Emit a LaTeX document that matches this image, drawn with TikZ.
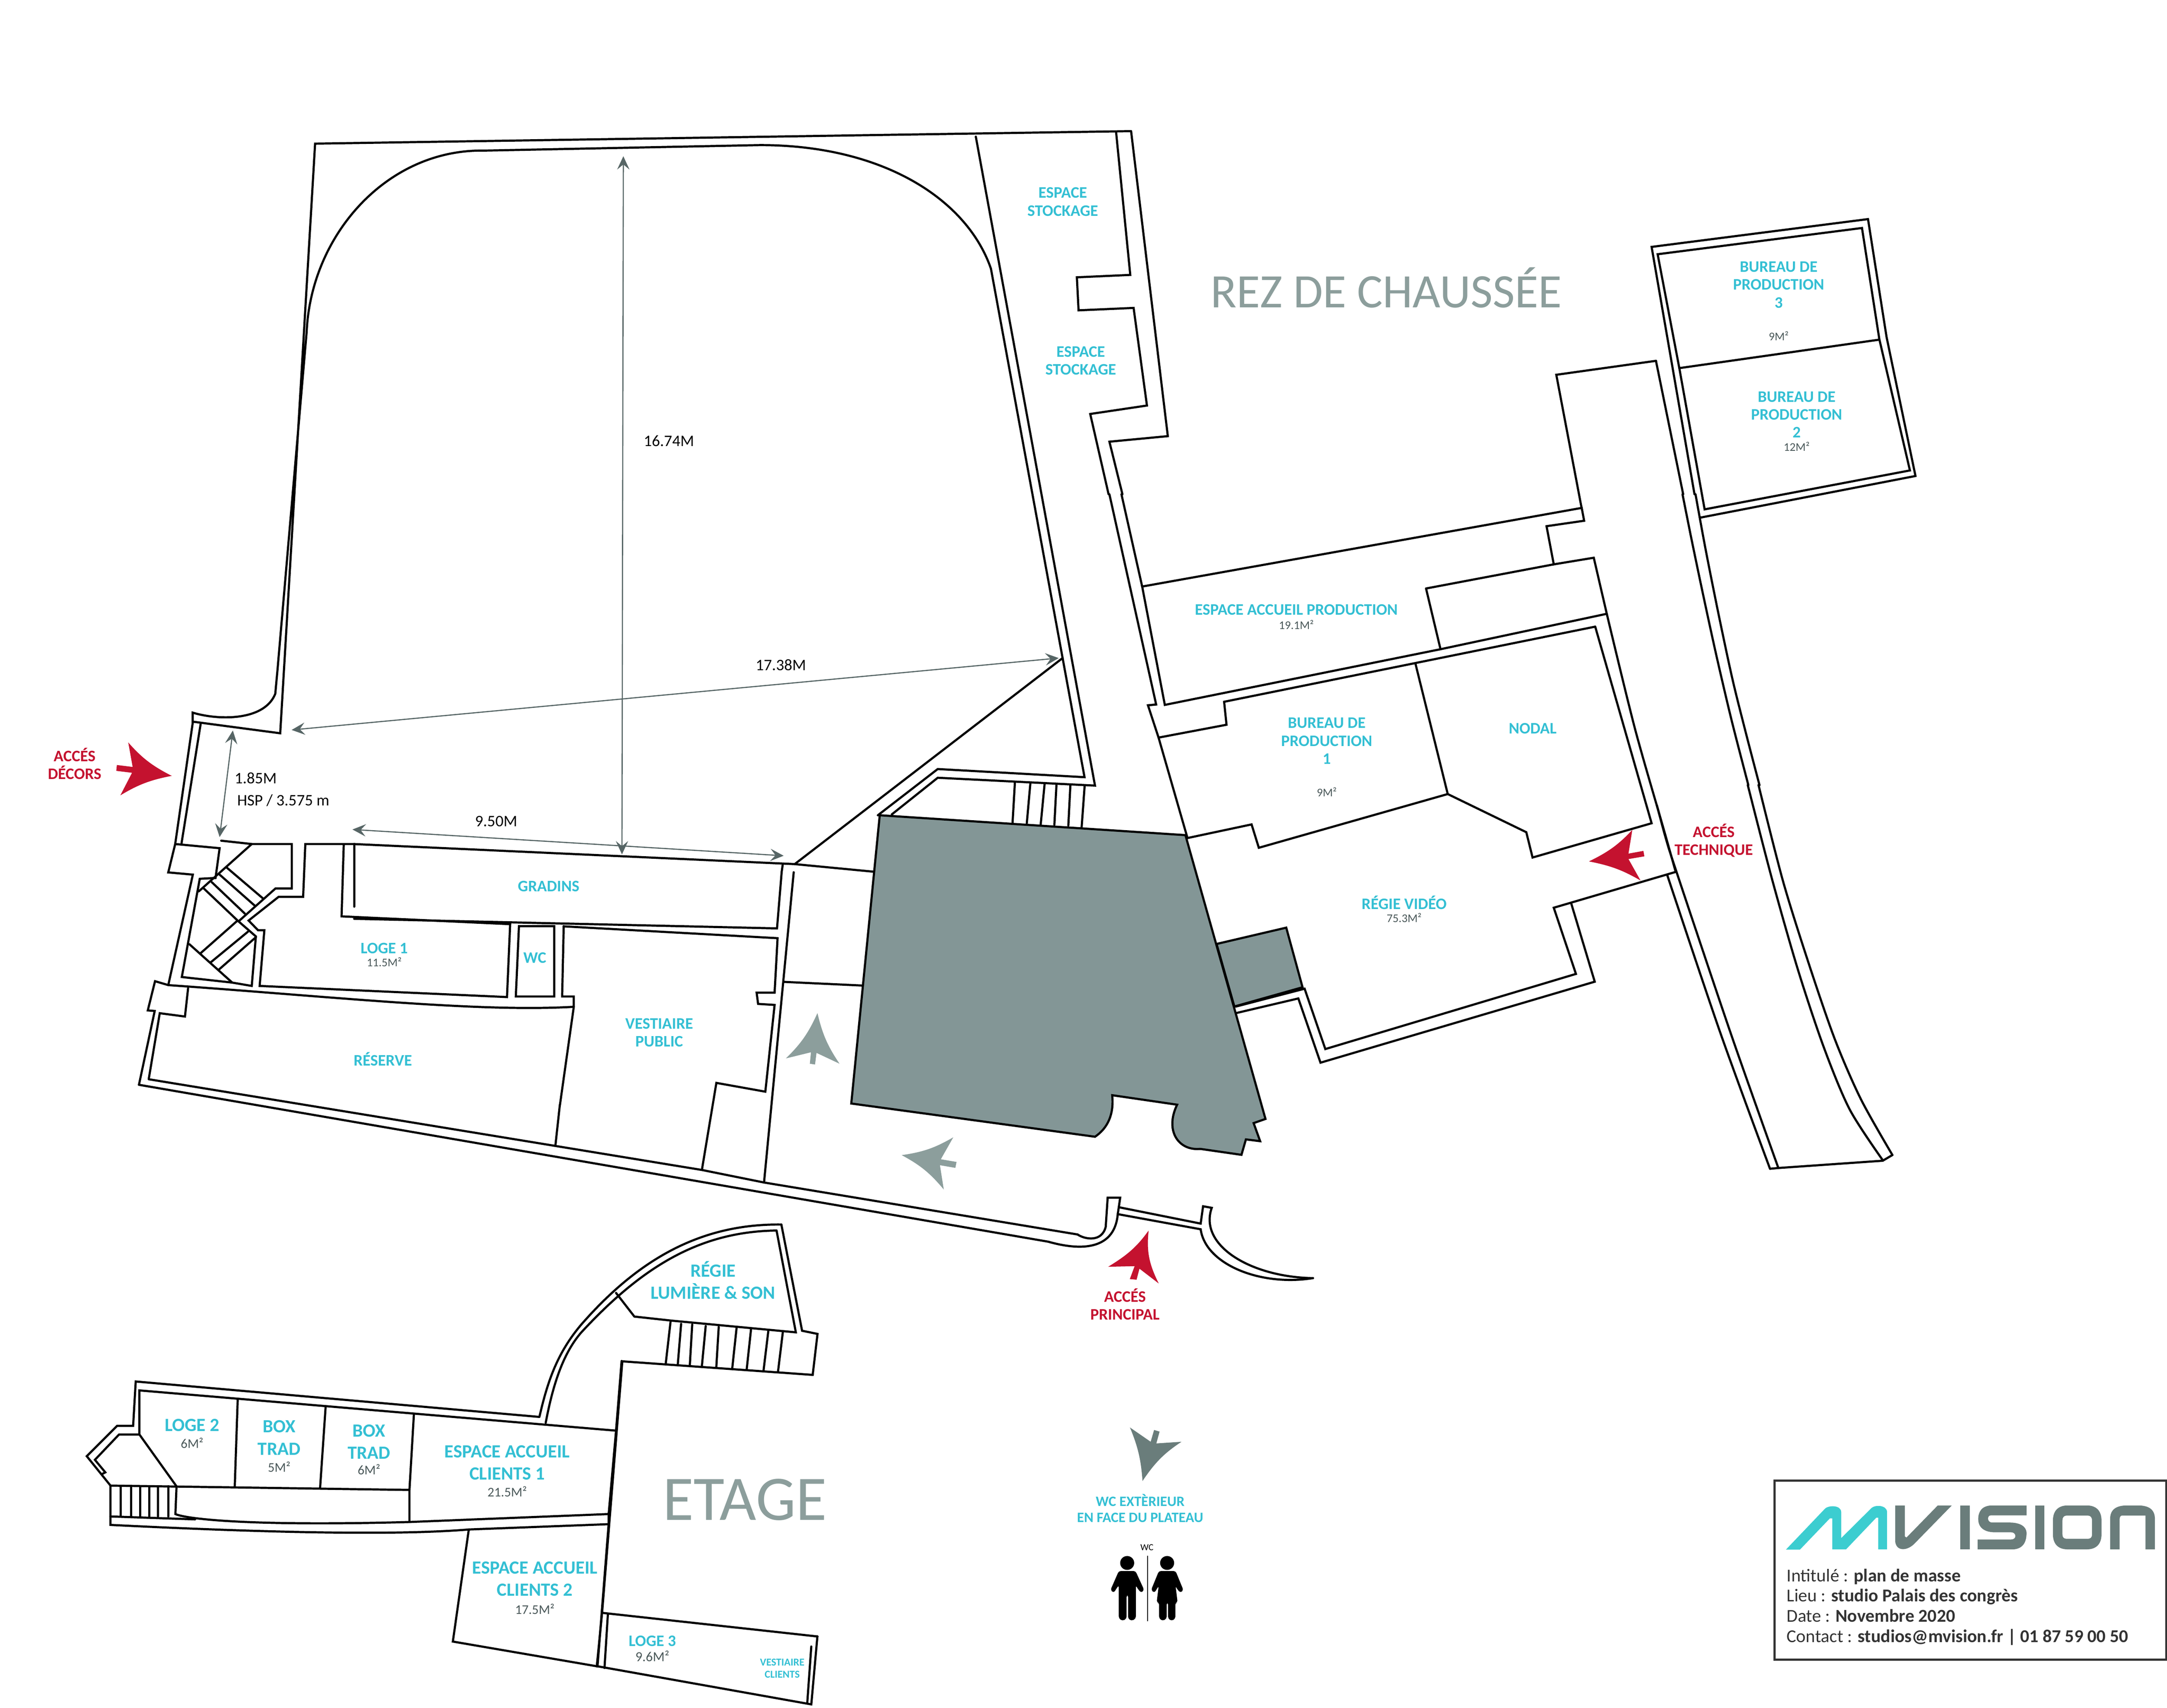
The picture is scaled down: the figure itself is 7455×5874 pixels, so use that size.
\documentclass[tikz,border=0pt]{standalone}
\usepackage{fontspec}
\setmainfont{Carlito}
\usetikzlibrary{arrows.meta}
\definecolor{labteal}{HTML}{33BFD3}
\definecolor{areagrey}{HTML}{4A5859}
\definecolor{hallgrey}{HTML}{839696}
\definecolor{markgrey}{HTML}{8C9E9C}
\definecolor{wcgrey}{HTML}{6A7D7B}
\definecolor{dimgrey}{HTML}{566565}
\definecolor{accred}{HTML}{C4122F}
\definecolor{logoteal}{HTML}{3CCDD0}
\newcommand{\arrowmark}[8]{\fill[#1] #2 to[bend left=11] #3 -- #4 -- #5 -- #6 -- #7 -- #8 to[bend left=11] #2 -- cycle;}
\tikzset{
    wall/.style={draw=black,line width=2.1pt},
    dimline/.style={draw=dimgrey,line width=1.1pt,{Stealth[length=13pt,width=12pt,inset=5pt]}-{Stealth[length=13pt,width=12pt,inset=5pt]}},
    lab/.style={text=labteal,font=\fontsize{15.7}{17.5}\selectfont\bfseries,align=center,inner sep=0},
    labbig/.style={lab,font=\fontsize{18.2}{21.7}\selectfont\bfseries},
    labsmall/.style={lab,font=\fontsize{10.3}{12}\selectfont\bfseries},
    area/.style={text=areagrey,font=\fontsize{11.5}{13}\selectfont,inner sep=0},
    areabig/.style={area,font=\fontsize{13}{15}\selectfont},
    redlab/.style={lab,text=accred},
    dimlab/.style={text=black,font=\fontsize{15.7}{17}\selectfont,inner sep=0},
    floorlab/.style={text=markgrey,font=\fontsize{62}{63}\selectfont,inner sep=0},
    titlelab/.style={text=black!80,font=\fontsize{17.7}{20}\selectfont,inner sep=0,anchor=base west},
    vthumb/.style={scale=4.7545},
    ventry/.style={shift={(400,2300)},xscale=1.084,yscale=.957},
    vstock/.style={shift={(3300,400)},xscale=.574,yscale=.829},
    vetage/.style={shift={(250,4550)},xscale=1.276,yscale=.829},
    vporch/.style={shift={(2000,4100)},xscale=1.658,yscale=1.084},
    vregie/.style={shift={(3800,1700)},xscale=1.658,yscale=1.339},
    vlogo/.style={shift={(6000,5000)},xscale=.928,yscale=.478},
    vhall/.style={shift={(2900,2500)},xscale=1.02,yscale=1.02},
    vbureau/.style={shift={(5400,700)},xscale=.829,yscale=.765},
    vwc/.style={shift={(3600,4900)},xscale=.383,yscale=.478},
    vcorra/.style={shift={(5600,1700)},xscale=.638,yscale=.638},
    vcorrb/.style={shift={(5700,2700)},xscale=.638,yscale=.893},
    vvest/.style={shift={(2000,3000)},xscale=.638,yscale=.702},
}
\begin{document}
\begin{tikzpicture}[x=0.01cm,y=-0.01cm,line join=miter,line cap=round]
\useasboundingbox (0,0) rectangle (7455,5874);
% plateau
\draw[wall] (3891,451) -- (1084,494) -- (964,2522) -- (663,2482) -- (663,2451)
    .. controls (747,2477) and (909,2482) .. (947,2386) -- (955,2300) -- (1055,1141)
    .. controls (1070,808) and (1331,513) .. (1664,518) -- (2615,499)
    .. controls (3043,499) and (3328,689) .. (3409,924) -- (3731,2673) -- (3226,2645) -- (3020,2804);
\draw[wall] (3357,470) -- (3767,2702) -- (3226,2675) -- (3068,2801);
\draw[wall] (3656,2263) -- (2734,2972);
\draw[wall] (2734,2972) -- (3004,2998);
\draw[wall] (2689,3000) -- (2693,2972);
\draw[wall] (1218,2903) -- (2734,2972);
\draw[wall] (512,3712) -- (2415,4024) -- (2628,4067) -- (3708,4246);
\draw[wall] (478,3731) -- (3608,4271);
\draw[wall] (1926,3800) -- (1911,3937);
\draw[wall] (5441,1747) -- (5354,1289) -- (5697,1241);
% stockage
\begin{scope}[vstock]
    \draw[wall] (1030,62) -- (1250,1327) -- (900,1350) -- (978,1568);
    \draw[wall] (940,65) -- (1025,658) -- (705,668) -- (715,805) -- (1045,795) -- (1125,1200) -- (785,1235) -- (895,1568);
\end{scope}
% entree decors, escalier, loge 1
\begin{scope}[ventry]
    \draw[wall] (243,192) -- (187,630) -- (165,732) -- (243,740) -- (165,1137);
    \draw[wall] (268,197) -- (207,628);
    \draw[wall] (187,630) -- (328,645) -- (315,752) -- (265,755) -- (208,1108) -- (368,1128) -- (430,1140)
        -- (443,962) -- (388,908) -- (505,790) -- (557,790) -- (557,630) -- (430,630) -- (333,618);
    \draw[wall] (430,630) -- (262,800);
    \draw[wall] (352,716) -- (465,825);
    \draw[wall] (328,740) -- (440,852);
    \draw[wall] (303,767) -- (408,880);
    \draw[wall] (278,790) -- (385,905) -- (268,1022);
    \draw[wall] (232,990) -- (368,1128);
    \draw[wall] (418,945) -- (300,1055);
    \draw[wall] (443,965) -- (327,1080);
    \draw[wall] (755,630) -- (600,630) -- (593,820) -- (515,820) -- (420,905) -- (450,940) -- (470,940)
        -- (455,1140) -- (1240,1180) -- (1250,918) -- (715,890) -- (722,630);
    \draw[wall] (755,630) -- (755,855);
    \draw[wall] (1278,925) -- (1390,925) -- (1390,1178) -- (1268,1178) -- cycle;
    \draw[wall] (1420,925) -- (1415,1178) -- (1452,1178) -- (1452,1215) -- (1408,1568);
    \draw[wall] (165,1137) .. controls (700,1180) and (1150,1235) .. (1452,1215);
    \draw[wall] (165,1137) -- (123,1123) -- (100,1228) -- (122,1230) -- (72,1495);
    \draw[wall] (228,1148) -- (218,1250) -- (138,1238) -- (103,1475);
    \arrowmark{accred}{(176,385)}{(38,265)}{(52,353)}{(2,346)}{(0,367)}{(50,374)}{(13,455)}
    \draw[dimline] (370,222) coordinate (hauta) -- (328,605) coordinate (hautb);
\end{scope}
% gradins, vestiaire public
\begin{scope}[vvest]
    \draw[wall] (-1225,228) -- (1055,275) -- (1080,0);
    \draw[wall] (-96,265) -- (1058,323) -- (1042,590) -- (945,590) -- (953,645) -- (1042,650) -- (992,1075) -- (728,1032) -- (650,1458);
    \draw[wall] (1145,0) -- (985,1520);
    \draw[wall] (1090,537) -- (1515,555);
    \arrowmark{markgrey}{(1273,690)}{(1103,912)}{(1238,882)}{(1232,938)}{(1260,942)}{(1268,885)}{(1392,938)}
\end{scope}
% hall gris
\begin{scope}[vhall]
    \draw[wall,fill=hallgrey] (124,298) -- (1155,365) -- (1425,1322) -- (1385,1336) -- (1407,1397) -- (1359,1391) -- (1344,1443) -- (1205,1423)
        .. controls (1130,1430) and (1085,1360) .. (1127,1274) -- (908,1242) .. controls (915,1310) and (890,1355) .. (850,1382) -- (28,1270) -- cycle;
    \draw[wall,fill=hallgrey] (1260,732) -- (1495,677) -- (1550,878) -- (1320,943) -- cycle;
    \draw[wall] (580,185) -- (572,322);
    \draw[wall] (632,190) -- (620,325);
    \draw[wall] (680,193) -- (667,328);
    \draw[wall] (720,195) -- (713,330);
    \draw[wall] (767,197) -- (760,333);
    \draw[wall] (815,200) -- (805,338);
    \arrowmark{markgrey}{(198,1444)}{(340,1560)}{(327,1478)}{(379,1487)}{(383,1467)}{(330,1458)}{(372,1384)}
\end{scope}
% porche, accueil
\begin{scope}[vporch]
    \draw[wall] (1030,135) .. controls (1045,150) and (1080,160) .. (1088,110) -- (1092,18) -- (1118,18) -- (1113,70);
    \draw[wall] (1115,48) -- (1285,100) -- (1290,45) -- (1308,50) .. controls (1280,170) and (1390,270) .. (1518,273);
    \draw[wall] (970,158) .. controls (1010,175) and (1105,205) .. (1113,70) -- (1285,118) .. controls (1295,230) and (1410,300) .. (1518,273);
    \arrowmark{accred}{(1177,122)}{(1093,237)}{(1148,235)}{(1138,276)}{(1152,278)}{(1158,243)}{(1198,290)}
    % etage, regie
    \draw[wall] (415,103) .. controls (250,100) and (120,210) .. (0,420) .. controls (-50,510) and (-70,600) .. (-87,713);
    \draw[wall] (405,122) .. controls (250,125) and (130,230) .. (0,445) .. controls (-40,515) and (-60,620) .. (-74,732);
    \draw[wall] (85,537) -- (480,580) -- (490,450) -- (458,440) -- (415,103);
    \draw[wall] (405,122) -- (445,445) -- (188,408) -- (110,395) -- (72,320);
    \draw[wall] (185,412) -- (175,545);
    \draw[wall] (207,418) -- (200,548);
    \draw[wall] (230,420) -- (225,550);
    \draw[wall] (258,425) -- (250,553);
    \draw[wall] (285,428) -- (280,556);
    \draw[wall] (322,432) -- (313,560);
    \draw[wall] (352,436) -- (343,563);
    \draw[wall] (388,440) -- (378,566);
    \draw[wall] (418,445) -- (408,570);
    \draw[wall] (85,537) -- (43,1335) -- (32,1505);
    \draw[wall] (43,1335) -- (490,1410);
    \draw[wall] (55,1340) -- (48,1510);
\end{scope}
\draw[wall] (2812,5628) -- (2791,5862) -- (2056,5731);
\draw[wall] (2791,5663) -- (2777,5859);
% etage ouest
\begin{scope}[vetage]
    \draw[wall] (1258,390) -- (170,243) -- (163,427) -- (120,427) -- (38,553) -- (102,675) -- (102,838)
        .. controls (450,865) and (850,885) .. (1068,857) -- (1445,835);
    \draw[wall] (1465,447) -- (180,280) -- (180,463) -- (125,463) -- (60,568) -- (88,620) -- (78,628);
    \draw[wall] (180,463) -- (280,678);
    \draw[wall] (102,675) -- (908,693);
    \draw[wall] (445,315) -- (437,680);
    \draw[wall] (682,348) -- (667,686);
    \draw[wall] (920,378) -- (908,693) -- (908,826);
    \foreach \xs in {130,158,182,207,230,258}
        \draw[wall] (\xs,678) -- (\xs,803);
    \draw[wall] (280,678) -- (277,793) .. controls (300,810) and (450,845) .. (908,826) -- (1445,793);
    \draw[wall] (102,803) -- (330,815);
    \draw[wall] (1068,857) -- (1025,1322) -- (1415,1425);
    \draw[wall] (1480,158) -- (1465,447) -- (1445,795) -- (1445,835) -- (1415,1425);
\end{scope}
% regie video, nodal, bureau 1, accueil production
\begin{scope}[vregie]
    \draw[wall] (78,237) -- (990,35) -- (995,68) -- (917,82) -- (932,180) -- (1015,163) -- (1042,307) -- (697,398) -- (125,541) -- cycle;
    \draw[wall] (667,242) -- (932,180);
    \draw[wall] (667,242) -- (697,398);
    \draw[wall] plot[smooth] coordinates {(1042,307) (1100,600) (1160,860) (1185,970)};
    \draw[wall] (1018,340) -- (1135,845) -- (888,933) -- (875,868) -- (712,770) -- (320,908) -- (305,848) -- (172,883);
    \draw[wall] (1018,340) -- (248,533) -- (253,592) -- (112,625);
    \draw[wall] (645,435) -- (712,770);
    \draw[wall] (272,1316) -- (415,1270) -- (458,1425) -- (978,1232) -- (932,1062) -- (1185,970);
    \draw[wall] (275,1332) -- (402,1295) -- (448,1460) -- (1017,1252) -- (968,1050);
    \draw[wall] (35,0) -- (78,237);
    \draw[wall] (10,0) -- (107,540) -- (90,542) -- (112,625) -- (172,883);
    \arrowmark{accred}{(1005,943)}{(1112,992)}{(1087,937)}{(1120,930)}{(1118,916)}{(1087,923)}{(1095,862)}
\end{scope}
% bureaux 2 et 3, couloir
\begin{scope}[vbureau]
    \draw[wall] (518,1307) -- (340,195) -- (1238,70) -- (1315,600) -- (1435,1225) -- (543,1412);
    \draw[wall] (365,228) -- (1213,110) -- (1285,610) -- (1412,1200) -- (560,1375) -- (455,740) -- cycle;
    \draw[wall] (455,740) -- (1285,612);
    \draw[wall] (358,707) -- (471,1307);
\end{scope}
\begin{scope}[vcorra]
    \draw[wall] plot[smooth] coordinates {(295,0) (345,250) (410,560) (480,880) (560,1220) (650,1568)};
    \draw[wall] plot[smooth] coordinates {(365,0) (420,300) (490,650) (565,1000) (640,1300) (710,1568)};
\end{scope}
\begin{scope}[vcorrb]
    \draw[wall] plot[smooth] coordinates {(490,0) (620,360) (760,710) (900,1010) (1040,1250) (1218,1445)};
    \draw[wall] plot[smooth] coordinates {(548,0) (680,370) (820,690) (960,980) (1100,1210) (1270,1425)};
    \draw[wall] (1270,1425) -- (1218,1447) -- (655,1475) -- (610,1478);
    \draw[wall] plot[smooth] coordinates {(0,78) (50,210) (105,333) (400,960) (655,1475)};
    \draw[wall] plot[smooth] coordinates {(55,345) (340,950) (610,1478)};
\end{scope}
% cartouche
\draw[draw=black!80,line width=2pt] (6105,5092) rectangle (7452,5708);
\begin{scope}[vlogo]
    \fill[logoteal] (155,690) -- (300,395) .. controls (315,368) and (360,370) .. (360,420) -- (360,607) -- (470,395) .. controls (485,362) and (530,370) .. (530,420)
        -- (530,688) -- (497,688) -- (497,460) -- (490,460) -- (378,688) -- (327,688) -- (327,465) -- (318,465) -- (207,690) -- cycle;
    \fill[wcgrey] (560,372) -- (596,372) -- (596,595) -- (602,603) -- (718,372) -- (770,372) -- (630,650) .. controls (600,705) and (560,700) .. (560,620) -- cycle;
    \fill[wcgrey] (802,372) rectangle (836,688);
    \fill[wcgrey] (1047,372) -- (920,372) .. controls (880,372) and (868,420) .. (868,470) .. controls (868,530) and (890,565) .. (930,565) -- (990,565)
        .. controls (1010,565) and (1012,617) .. (990,617) -- (866,617) -- (866,688) -- (1000,688) .. controls (1040,680) and (1047,620) .. (1047,570)
        .. controls (1047,520) and (1020,495) .. (985,495) -- (920,495) .. controls (900,495) and (900,443) .. (915,443) -- (1047,443) -- cycle;
    \fill[wcgrey] (1080,372) rectangle (1113,688);
    \fill[wcgrey,even odd rule] (1200,372) -- (1270,372) .. controls (1310,372) and (1325,420) .. (1325,480) -- (1325,580) .. controls (1325,640) and (1310,688) .. (1270,688)
        -- (1200,688) .. controls (1160,688) and (1145,640) .. (1145,580) -- (1145,480) .. controls (1145,420) and (1160,372) .. (1200,372) -- cycle
        (1195,445) -- (1275,445) .. controls (1285,445) and (1290,460) .. (1290,480) -- (1290,580) .. controls (1290,600) and (1285,612) .. (1275,612)
        -- (1195,612) .. controls (1185,612) and (1180,600) .. (1180,580) -- (1180,480) .. controls (1180,460) and (1185,445) .. (1195,445) -- cycle;
    \fill[wcgrey] (1357,688) -- (1357,470) .. controls (1357,400) and (1380,372) .. (1420,372) -- (1460,372) .. controls (1500,372) and (1523,400) .. (1523,470)
        -- (1523,688) -- (1488,688) -- (1488,445) -- (1400,445) .. controls (1395,445) and (1392,460) .. (1392,470) -- (1392,688) -- cycle;
\end{scope}
\node[titlelab] (intitule) at (6146,5440) {Intitulé : \textbf{plan de masse}};
\node[titlelab] (lieu) at (6146,5509) {Lieu : \textbf{studio Palais des congrès}};
\node[titlelab] (datep) at (6146,5578) {Date : \textbf{Novembre 2020}};
\node[titlelab] (contact) at (6146,5648) {Contact : \textbf{studios@mvision.fr | 01 87 59 00 50}};
% wc
\begin{scope}[vwc]
    \arrowmark{wcgrey}{(863,405)}{(1213,123)}{(987,135)}{(1016,50)}{(967,38)}{(936,123)}{(750,20)}
    \fill[black] (725,995) ellipse [x radius=63,y radius=50];
    \fill[black] (1084,995) ellipse [x radius=63,y radius=50];
    \fill[black,rounded corners=2pt] (650,1053) -- (800,1053) -- (878,1190) -- (850,1210) -- (815,1175) -- (803,1155) -- (803,1395) -- (765,1412) -- (733,1395)
        -- (733,1225) -- (720,1225) -- (720,1395) -- (685,1412) -- (650,1395) -- (650,1155) -- (632,1175) -- (605,1210) -- (575,1190) -- cycle;
    \fill[black,rounded corners=2pt] (1010,1053) -- (1160,1053) -- (1230,1190) -- (1205,1210) -- (1175,1185) -- (1160,1160) -- (1178,1280) -- (1158,1280) -- (1158,1395)
        -- (1125,1412) -- (1092,1395) -- (1092,1280) -- (1080,1280) -- (1080,1395) -- (1045,1412) -- (1012,1395) -- (1012,1280) -- (990,1280) -- (1008,1160)
        -- (970,1210) -- (940,1190) -- cycle;
    \draw[draw=black,line width=.9pt] (908,945) -- (908,1412);
    \node[text=black,font=\fontsize{9}{10}\selectfont,inner sep=0] (wcsign) at (903,885) {WC};
\end{scope}
% cotes et textes
\begin{scope}[vthumb]
    \coordinate (longa) at (451,113);
    \coordinate (longb) at (450,618);
    \coordinate (largea) at (211,528);
    \coordinate (largeb) at (766,476);
    \coordinate (gradina) at (255,600);
    \coordinate (gradinb) at (567,619);
    \draw[dimline] (longa) -- (longb);
    \draw[dimline] (largea) -- (largeb);
    \draw[dimline] (gradina) -- (gradinb);
    \node[dimlab] (dimlong) at (484,319) {16.74M};
    \node[dimlab] (dimlarge) at (565,481) {17.38M};
    \node[dimlab] (dimgradin) at (359,594) {9.50M};
    \node[dimlab] (dimhaut) at (185,563) {1.85M};
    \node[dimlab] (dimhsp) at (205,579) {HSP / 3.575 m};
    \node[floorlab,font=\fontsize{47}{48}\selectfont] (rdc) at (1003,208) {REZ DE CHAUSSÉE};
    \node[floorlab] (etage) at (539,1085) {ETAGE};
    \node[lab] (stocka) at (769,146) {ESPACE\\STOCKAGE};
    \node[lab] (stockb) at (782,261) {ESPACE\\STOCKAGE};
    \node[lab] (gradins) at (397,641) {GRADINS};
    \node[lab] (logea) at (278,686) {LOGE 1};
    \node[area] (logeam) at (278,696) {11.5M²};
    \node[lab] (wcint) at (387,693) {WC};
    \node[lab] (vestpub) at (477,747) {VESTIAIRE\\PUBLIC};
    \node[lab] (reserve) at (277,766) {RÉSERVE};
    \node[lab] (accprod) at (938,441) {ESPACE ACCUEIL PRODUCTION};
    \node[area] (accprodm) at (938,452) {19.1M²};
    \node[lab] (burun) at (960,536) {BUREAU DE\\PRODUCTION\\1};
    \node[area] (burunm) at (960,573) {9M²};
    \node[lab] (nodal) at (1109,527) {NODAL};
    \node[lab] (regvid) at (1016,653) {RÉGIE VIDÉO};
    \node[area] (regvidm) at (1016,664) {75.3M²};
    \node[lab] (burtrois) at (1287,206) {BUREAU DE\\PRODUCTION\\3};
    \node[area] (burtroism) at (1287,243) {9M²};
    \node[lab] (burdeux) at (1300,300) {BUREAU DE\\PRODUCTION\\2};
    \node[area] (burdeuxm) at (1300,323) {12M²};
    \node[redlab] (acctech) at (1240,608) {ACCÉS\\TECHNIQUE};
    \node[redlab] (accdec) at (54,552.5) {ACCÉS\\DÉCORS};
    \node[redlab] (accprin) at (814,943.5) {ACCÉS\\PRINCIPAL};
    \node[lab,font=\fontsize{14}{15.7}\selectfont\bfseries] (wcext) at (825,1091) {WC EXTÈRIEUR\\EN FACE DU PLATEAU};
    \node[labbig] (reglum) at (516,926) {RÉGIE\\LUMIÈRE \& SON};
    \node[labbig] (logeb) at (139,1031) {LOGE 2};
    \node[areabig] (logebm) at (139,1044) {6M²};
    \node[labbig] (boxa) at (202,1040) {BOX\\TRAD};
    \node[areabig] (boxam) at (202,1061) {5M²};
    \node[labbig] (boxb) at (267,1043) {BOX\\TRAD};
    \node[areabig] (boxbm) at (267,1063) {6M²};
    \node[labbig] (accla) at (367,1058) {ESPACE ACCUEIL\\CLIENTS 1};
    \node[areabig] (acclam) at (367,1079) {21.5M²};
    \node[labbig] (acclb) at (387,1142) {ESPACE ACCUEIL\\CLIENTS 2};
    \node[areabig] (acclbm) at (387,1164) {17.5M²};
    \node[lab] (logec) at (472,1187) {LOGE 3};
    \node[area,font=\fontsize{13.5}{15}\selectfont] (logecm) at (472,1198) {9.6M²};
    \node[labsmall] (vestcli) at (566,1207) {VESTIAIRE\\CLIENTS};
\end{scope}
\end{tikzpicture}
\end{document}
